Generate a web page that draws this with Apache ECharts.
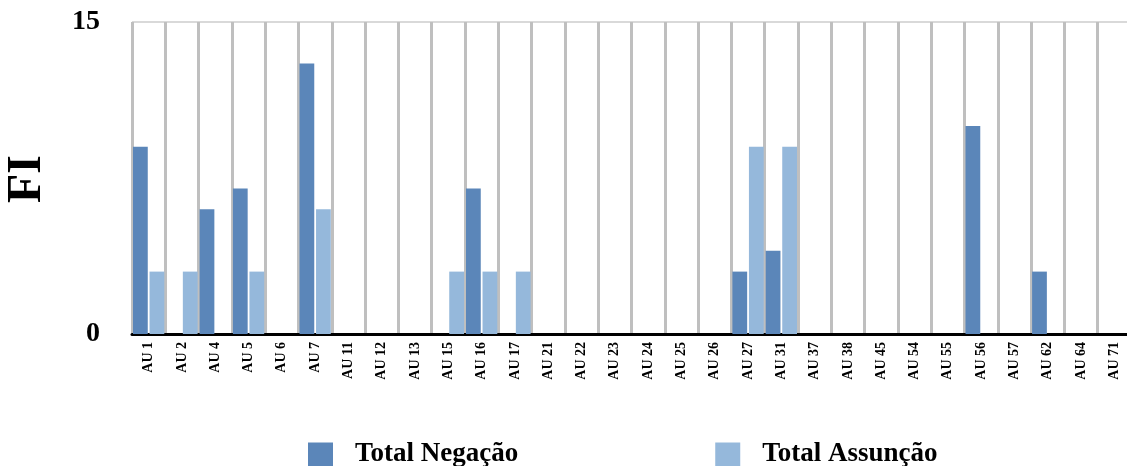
<!DOCTYPE html>
<html>
<head>
<meta charset="utf-8">
<script src="https://cdn.jsdelivr.net/npm/echarts@6/dist/echarts.min.js"></script>
<style>
html,body{margin:0;padding:0;background:#fff;overflow:hidden;}
#chart{width:1127px;height:466px;}
</style>
</head>
<body>
<div id="chart"></div>
<script>
const categories = ['AU 1','AU 2','AU 4','AU 5','AU 6','AU 7','AU 11','AU 12','AU 13','AU 15','AU 16','AU 17','AU 21','AU 22','AU 23','AU 24','AU 25','AU 26','AU 27','AU 31','AU 37','AU 38','AU 45','AU 54','AU 55','AU 56','AU 57','AU 62','AU 64','AU 71'];
const totalNegacao = [9,0,6,7,0,13,0,0,0,0,7,0,0,0,0,0,0,0,3,4,0,0,0,0,0,10,0,3,0,0];
const totalAssuncao = [3,3,0,3,0,6,0,0,0,3,3,3,0,0,0,0,0,0,9,9,0,0,0,0,0,0,0,0,0,0];
const yTicks = [0, 15];

const FONT = '"Liberation Serif", "Times New Roman", serif';
const chart = echarts.init(document.getElementById('chart'), null, {renderer:'canvas'});
chart.setOption({
  animation: false,
  backgroundColor: '#fff',
  grid: {left: 132, width: 999, top: 22, height: 312, containLabel: false, outerBoundsMode: 'none'},
  graphic: [{
    type: 'text',
    x: 28, y: 179,
    rotation: Math.PI/2,
    style: {
      text: 'FI',
      font: 'bold 48px ' + FONT,
      fill: '#000',
      textAlign: 'center',
      textVerticalAlign: 'middle'
    }
  }],
  legend: {
    left: 303, top: 436,
    itemWidth: 25, itemHeight: 24,
    itemGap: 197,
    icon: 'rect',
    textStyle: {fontFamily: FONT, fontWeight: 'bold', fontSize: 27, color: '#000', padding: [0,0,0,17]},
    data: ['Total Negação', 'Total Assunção']
  },
  xAxis: {
    type: 'category',
    data: categories,
    boundaryGap: true,
    axisLine: {show: true, lineStyle: {color: '#000', width: 3}},
    axisTick: {show: false},
    axisLabel: {interval: 0, rotate: 90, margin: 8, fontFamily: FONT, fontWeight: 'bold', fontSize: 14, color: '#000'},
    splitLine: {show: true, interval: 0, lineStyle: {color: '#bfbfbf', width: 3}}
  },
  yAxis: {
    type: 'value',
    min: yTicks[0], max: yTicks[yTicks.length-1], interval: 15,
    axisLine: {show: false},
    axisTick: {show: false},
    axisLabel: {margin: 32, fontFamily: FONT, fontWeight: 'bold', fontSize: 28, color: '#000'},
    splitLine: {show: true, lineStyle: {color: '#d9d9d9', width: 2}}
  },
  series: [
    {name: 'Total Negação', type: 'bar', data: totalNegacao, barCategoryGap: '6%', barGap: '12%', itemStyle: {color: '#5b86b9'}},
    {name: 'Total Assunção', type: 'bar', data: totalAssuncao, barCategoryGap: '6%', barGap: '12%', itemStyle: {color: '#95b8db'}}
  ]
});
</script>
</body>
</html>
